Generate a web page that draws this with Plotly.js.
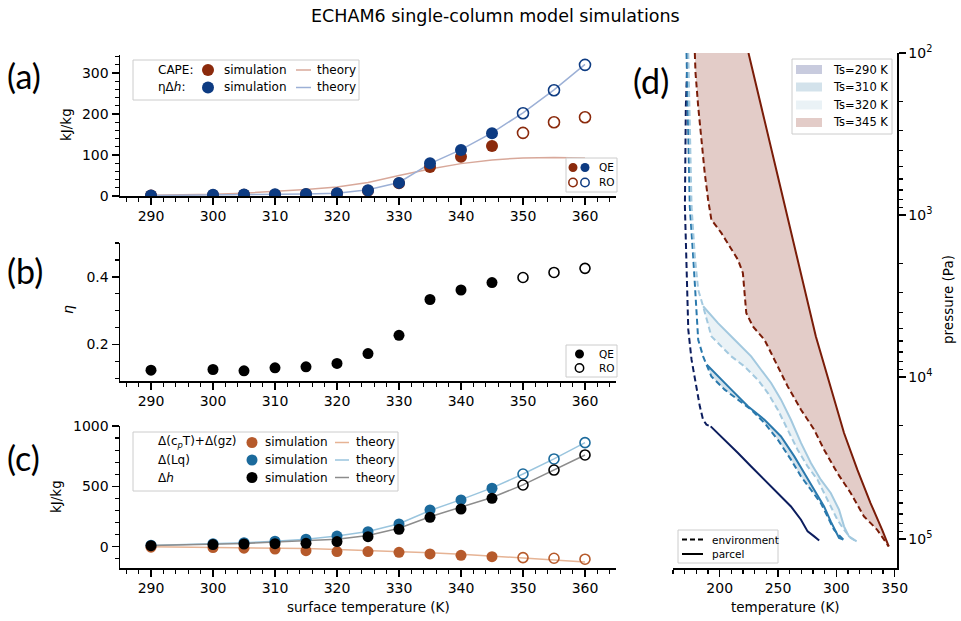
<!DOCTYPE html>
<html><head><meta charset="utf-8">
<script src="https://cdn.plot.ly/plotly-3.0.1.min.js"></script>
<style>body{margin:0;background:#fff}#chart{width:961px;height:621px}</style>
</head><body><div id="chart"></div>
<script>
// ---------------- data ----------------
// surface temperatures (K)
const tsQE = [290,300,305,310,315,320,325,330,335,340,345];
const tsRO = [350,355,360];
const tsTheory = [290,295,300,305,310,315,320,325,330,335,340,345,350,355,360];
// (a) CAPE and eta*Delta h (kJ/kg)
const capeQE = [1,2,3,3,4,6,13,31,71,96,122];
const capeRO = [154,180,192];
const etaDhQE = [1.5,3,3.5,4,5,6.5,14,32,80,112,153];
const etaDhRO = [202,258,320];
const capeTheory = [2,3,4,7,11,16,22,33,50,66,79,88,93,94,93];
const etaDhTheory = [1,1.5,2,2.5,3.5,5,7,15,33,79,113,154,203,259,321];
// (b) eta
const etaQE = [0.124,0.126,0.122,0.131,0.134,0.144,0.173,0.227,0.333,0.361,0.383];
const etaRO = [0.398,0.413,0.425];
// (c) energy components (kJ/kg)
const cpgzQE = [-4,-8,-13,-20,-33,-41,-41,-47,-60,-72,-83];
const cpgzRO = [-91,-96,-104];
const lqQE = [12,25,33,45,62,88,124,188,304,387,484];
const lqRO = [602,727,862];
const dhQE = [8,17,22,25,28,42,83,144,243,312,401];
const dhRO = [511,635,760];
const cpgzTheory = [0,-2,-4,-7,-11,-16,-23,-30,-38,-50,-62,-76,-92,-110,-128];
const lqTheory = [10,16,23,32,45,62,88,125,190,300,390,487,602,728,862];
const dhTheory = [10,14,19,27,38,50,62,93,152,248,325,408,512,635,760];
// (d) profiles: temperature (K) vs pressure (Pa)
const env290T = [172.5,171.0,170.2,171.6,173.1,175.9,180.1,183.0,185.8,188.7,192.3];
const env290P = [100,214,885,2510,5100,7820,11430,15170,18370,19680,20180];
const par290T = [192.3,204.3,215.7,227.0,238.4,249.8,261.1,269.7,275.4,281.0,285.3];
const par290P = [20180,24380,29440,35650,43050,52000,62950,76030,89740,96380,102100];
const env310T = [171.6,173.1,174.4,177.3,180.1,181.6,185.8,189.0,192.9,204.3,215.7,227.0,238.4,249.8,261.1,269.7,278.2,286.7,293.8,298.0,306.0];
const env310P = [100,343,885,1800,3660,5890,7460,8400,9910,11970,13800,15920,19230,24380,32360,41120,49660,59980,76030,87700,100900];
const par310T = [189.0,198.6,210.0,224.2,238.4,252.6,264.0,272.5,281.0,289.5,295.2,299.5,302.3,306.0];
const par310P = [8400,9910,11970,15170,18370,23280,30900,39170,49660,62950,77800,89740,98630,100900];
const env320T = [173.1,174.4,175.9,178.7,181.6,185.8,192.9,201.4,210.0,221.3,232.7,241.3,249.8,258.3,266.8,275.4,283.9,289.5,295.2,300.9,306.6,312.3,317.4];
const env320P = [100,343,885,1800,2890,3660,5610,6470,7460,8610,10400,12560,15920,21140,28120,35650,43050,52000,62950,76030,87700,98630,103500];
const par320T = [185.8,198.6,212.8,227.0,235.5,244.1,252.6,261.1,269.7,278.2,286.7,295.2,302.3,306.6,310.8,317.4];
const par320P = [3660,4650,5890,7460,9020,10890,13800,18370,25530,33960,43050,52000,65920,83560,96380,103500];
const env345T = [178.7,179.3,181.6,184.4,187.2,190.1,192.9,201.4,210.0,215.7,219.9,221.3,222.8,228.5,238.4,244.1,249.8,258.3,269.7,281.0,289.5,300.9,312.3,323.6,335.0,344.9];
const env345P = [100,133,214,343,551,805,1070,1290,1640,1890,2280,3030,4030,4880,5890,7110,8610,11430,15920,21140,28120,39170,52000,72440,87700,111200];
const par345T = [224.7,236.4,252.6,282.4,295.2,306.6,318.0,329.3,339.3,344.9];
const par345P = [100,224,698,5610,11430,22180,37330,60000,87700,111200];
const tsLabels = ['Ts=290 K','Ts=310 K','Ts=320 K','Ts=345 K'];
// pressure axis tick labels
const pTickVals = [100,1000,10000,100000];
const pTickText = ['10<sup>2</sup>','10<sup>3</sup>','10<sup>4</sup>','10<sup>5</sup>'];

// ---------------- styling helpers ----------------
const W = 961, H = 621;
const px = x => x / W, py = y => 1 - y / H;
const FONT = 'DejaVu Sans, sans-serif';
const C = {
  capeSim:'#8b2a0c', capeTh:'#d8a89a', etaSim:'#0d3b82', etaTh:'#9cb0d6',
  cpSim:'#b65a2b', cpTh:'#e6b394', lqSim:'#1b6a9c', lqTh:'#9ac5de', dhSim:'#000000', dhTh:'#8c8c8c',
  p290:'#0c1d5e', p310:'#2a79ad', p320:'#a3c9df', p345:'#7a1c08',
  f290:'#c8cbde', f310:'#d3e2eb', f320:'#eaf2f6', f345:'#e3ccc8'
};

const traces = [];
function line(x, y, color, ax, w) { traces.push({x, y, xaxis:'x'+ax, yaxis:'y'+ax, mode:'lines', line:{color, width:w||1.5}, hoverinfo:'skip'}); }
function dots(x, y, color, ax, size, open) {
  traces.push({x, y, xaxis:'x'+ax, yaxis:'y'+ax, mode:'markers', hoverinfo:'skip',
    marker: open ? {symbol:'circle-open', size, color, line:{color, width:1.6}} : {symbol:'circle', size, color, line:{width:0}}});
}
// (a)
line(tsTheory, capeTheory, C.capeTh, '');
line(tsTheory, etaDhTheory, C.etaTh, '');
dots(tsQE, capeQE, C.capeSim, '', 12, false);
dots(tsRO, capeRO, C.capeSim, '', 11, true);
dots(tsQE, etaDhQE, C.etaSim, '', 12, false);
dots(tsRO, etaDhRO, C.etaSim, '', 11, true);
// (b)
dots(tsQE, etaQE, '#000', '2', 11, false);
dots(tsRO, etaRO, '#000', '2', 10, true);
// (c)
line(tsTheory, cpgzTheory, C.cpTh, '3');
line(tsTheory, lqTheory, C.lqTh, '3');
line(tsTheory, dhTheory, C.dhTh, '3');
dots(tsQE, cpgzQE, C.cpSim, '3', 11, false);
dots(tsRO, cpgzRO, C.cpSim, '3', 10, true);
dots(tsQE, lqQE, C.lqSim, '3', 11, false);
dots(tsRO, lqRO, C.lqSim, '3', 10, true);
dots(tsQE, dhQE, C.dhSim, '3', 11, false);
dots(tsRO, dhRO, C.dhSim, '3', 10, true);
// (d) fills between environment and parcel
function fillBetween(eT, eP, pT, pP, color) {
  const xs = [], ys = [];
  for (let i = 0; i < eT.length; i++) if (eP[i] >= pP[0]) { xs.push(eT[i]); ys.push(eP[i]); }
  for (let i = pT.length - 1; i >= 0; i--) { xs.push(pT[i]); ys.push(pP[i]); }
  traces.push({x:xs, y:ys, xaxis:'x4', yaxis:'y4', mode:'lines', fill:'toself', fillcolor:color, line:{width:0}, hoverinfo:'skip'});
}
fillBetween(env345T, env345P, par345T, par345P, C.f345);
fillBetween(env320T, env320P, par320T, par320P, C.f320);
fillBetween(env310T, env310P, par310T, par310P, C.f310);
function prof(x, y, color, dashed) {
  traces.push({x, y, xaxis:'x4', yaxis:'y4', mode:'lines', hoverinfo:'skip',
    line:{color, width:2, dash: dashed ? '6px,3.5px' : 'solid'}});
}
prof(env290T, env290P, C.p290, true);
prof(env310T, env310P, C.p310, true);
prof(env320T, env320P, C.p320, true);
prof(env345T, env345P, C.p345, true);
prof(par290T, par290P, C.p290, false);
prof(par310T, par310P, C.p310, false);
prof(par320T, par320P, C.p320, false);
prof(par345T, par345P, C.p345, false);
// invisible carrier trace so the minor-tick overlay axis of (d) is drawn
traces.push({x:[par345T[0]], y:[par345P[0]], xaxis:'x4', yaxis:'y5', mode:'markers', marker:{opacity:0}, hoverinfo:'skip'});

// ---------------- axes ----------------
function ax(extra, minor) {
  return Object.assign({
    showgrid:false, zeroline:false, showline:true, linecolor:'#000', linewidth:1.5,
    ticks:'outside', ticklen:7, tickwidth:1.5, tickcolor:'#000',
    tickfont:{family:FONT, size:14, color:'#000'}, fixedrange:true,
    minor:Object.assign({ticks:'outside', ticklen:4, tickwidth:1.2, tickcolor:'#000', showgrid:false}, minor)
  }, extra);
}
// minor tick positions of the log pressure axis (2..9 x each decade)
const logMinor = [];
for (let d = 100; d <= 100000; d *= 10) for (let k = 2; k <= 9; k++) logMinor.push(k * d);
const xd = [px(120), px(616)];
const dDomY = [py(568), py(53)];
const layout = {
  width:W, height:H, margin:{l:0, r:0, t:0, b:0}, showlegend:false,
  paper_bgcolor:'#fff', plot_bgcolor:'rgba(0,0,0,0)',
  font:{family:FONT, color:'#000'},
  xaxis: ax({domain:xd, range:[285,365], dtick:10, anchor:'y'}, {dtick:2}),
  yaxis: ax({domain:[py(196), py(55)], range:[0,344], dtick:100, anchor:'x'}, {dtick:20}),
  xaxis2: ax({domain:xd, range:[285,365], dtick:10, anchor:'y2'}, {dtick:2}),
  yaxis2: ax({domain:[py(381), py(243)], range:[0.092,0.5], dtick:0.2, tick0:0, tickformat:'.1f', anchor:'x2'}, {dtick:0.05}),
  xaxis3: ax({domain:xd, range:[285,365], dtick:10, anchor:'y3'}, {dtick:2}),
  yaxis3: ax({domain:[py(568), py(426)], range:[-177,1000], dtick:500, anchor:'x3'}, {dtick:100}),
  xaxis4: ax({domain:[px(673), px(897)], range:[160,352], dtick:50, anchor:'y4'}, {dtick:10}),
  yaxis4: ax({domain:dDomY, type:'log', range:[5.179,2], side:'right', anchor:'x4',
    tickmode:'array', tickvals:pTickVals, ticktext:pTickText}, {tickmode:'array', tickvals:logMinor}),
  yaxis5: {domain:dDomY, type:'log', range:[5.179,2], side:'right', anchor:'x4', overlaying:'y4',
    showgrid:false, zeroline:false, showline:false, showticklabels:false, fixedrange:true,
    tickmode:'array', tickvals:logMinor, ticks:'outside', ticklen:4, tickwidth:1.2, tickcolor:'#000'},
  shapes:[], annotations:[]
};

// ---------------- text and legend helpers ----------------
const A = layout.annotations, S = layout.shapes;
function txt(text, x, y, size, opts) {
  A.push(Object.assign({text, x:px(x), y:py(y), xref:'paper', yref:'paper', showarrow:false,
    xanchor:'left', yanchor:'middle', font:{family:FONT, size, color:'#000'}}, opts || {}));
}
function box(x0, y0, x1, y1) {
  S.push({type:'rect', xref:'paper', yref:'paper', x0:px(x0), x1:px(x1), y0:py(y1), y1:py(y0),
    line:{color:'#cccccc', width:1}, fillcolor:'rgba(255,255,255,0.85)', layer:'above'});
}
function circ(cx, cy, r, color, open) {
  S.push({type:'circle', xref:'paper', yref:'paper', x0:px(cx-r), x1:px(cx+r), y0:py(cy+r), y1:py(cy-r),
    line:{color, width: open ? 1.5 : 0}, fillcolor: open ? '#fff' : color, layer:'above'});
}
function seg(x0, x1, y, color, w, dash) {
  S.push({type:'line', xref:'paper', yref:'paper', x0:px(x0), x1:px(x1), y0:py(y), y1:py(y),
    line:{color, width:w, dash:dash||'solid'}, layer:'above'});
}
function swatch(x0, x1, y, h, color) {
  S.push({type:'rect', xref:'paper', yref:'paper', x0:px(x0), x1:px(x1), y0:py(y+h/2), y1:py(y-h/2),
    line:{width:0}, fillcolor:color, layer:'above'});
}

// title and panel labels
txt('ECHAM6 single-column model simulations', 495, 16, 17.5, {xanchor:'center'});
const PL = {family:'Lato, Open Sans, sans-serif', size:34, color:'#000'};
txt('(a)', 5, 76, 34, {font:PL});
txt('(b)', 5, 271, 34, {font:PL});
txt('(c)', 5, 457, 34, {font:PL});
txt('(d)', 631, 80, 34, {font:PL});
// axis titles
txt('kJ/kg', 66, 125, 13.5, {xanchor:'center', textangle:-90});
txt('<i>η</i>', 68, 310, 14, {xanchor:'center', textangle:-90});
txt('kJ/kg', 56, 497, 13.5, {xanchor:'center', textangle:-90});
txt('surface temperature (K)', 368, 607, 13.5, {xanchor:'center'});
txt('temperature (K)', 785, 607, 13.5, {xanchor:'center'});
txt('pressure (Pa)', 948, 300, 13.5, {xanchor:'center', textangle:-90});

// (a) legend
box(133, 60, 359, 100);
txt('CAPE:', 156, 70, 12); txt('ηΔ<i>h</i>:', 156, 87.5, 12);
circ(208, 70, 6, C.capeSim); circ(208, 87.5, 6, C.etaSim);
txt('simulation', 222, 70, 12); txt('simulation', 222, 87.5, 12);
seg(296, 311, 70, C.capeTh, 1.5); seg(296, 311, 87.5, C.etaTh, 1.5);
txt('theory', 315, 70, 12); txt('theory', 315, 87.5, 12);
box(566, 158, 617, 192);
circ(573, 167.5, 4.5, C.capeSim); circ(585, 167.5, 4.5, C.etaSim);
circ(573, 182.5, 4.2, C.capeSim, true); circ(585, 182.5, 4.2, C.etaSim, true);
txt('QE', 597, 167.5, 10.5); txt('RO', 597, 182.5, 10.5);
// (b) legend
box(566, 345, 617, 377);
circ(579.5, 354, 4.5, '#000'); circ(579.5, 368, 4.2, '#000', true);
txt('QE', 597, 354, 10.5); txt('RO', 597, 368, 10.5);
// (c) legend
box(133, 432, 398, 491);
const cRows = [442.5, 460, 477.5];
txt('Δ(c<sub><i>p</i></sub>T)+Δ(gz)', 156, cRows[0], 12); txt('Δ(Lq)', 156, cRows[1], 12); txt('Δ<i>h</i>', 156, cRows[2], 12);
circ(252, cRows[0], 5.5, C.cpSim); circ(252, cRows[1], 5.5, C.lqSim); circ(252, cRows[2], 5.5, C.dhSim);
cRows.forEach(r => txt('simulation', 263, r, 12));
seg(335, 349, cRows[0], C.cpTh, 1.5); seg(335, 349, cRows[1], C.lqTh, 1.5); seg(335, 349, cRows[2], C.dhTh, 1.5);
cRows.forEach(r => txt('theory', 354, r, 12));
// (d) legends
box(792, 59, 892, 134);
const dRows = [69.5, 87, 105, 122.5];
const dCols = [C.f290, C.f310, C.f320, C.f345];
dRows.forEach((r, i) => { swatch(796, 822, r, 9, dCols[i]); txt(tsLabels[i], 831, r, 11.5); });
box(678, 530, 778, 563);
seg(682, 703, 539.5, '#000', 2, '5px,3px'); seg(682, 703, 554, '#000', 2);
txt('environment', 710, 539.5, 10.5); txt('parcel', 710, 554, 10.5);

Plotly.newPlot('chart', traces, layout, {staticPlot:true, displayModeBar:false});
</script>
</body></html>
